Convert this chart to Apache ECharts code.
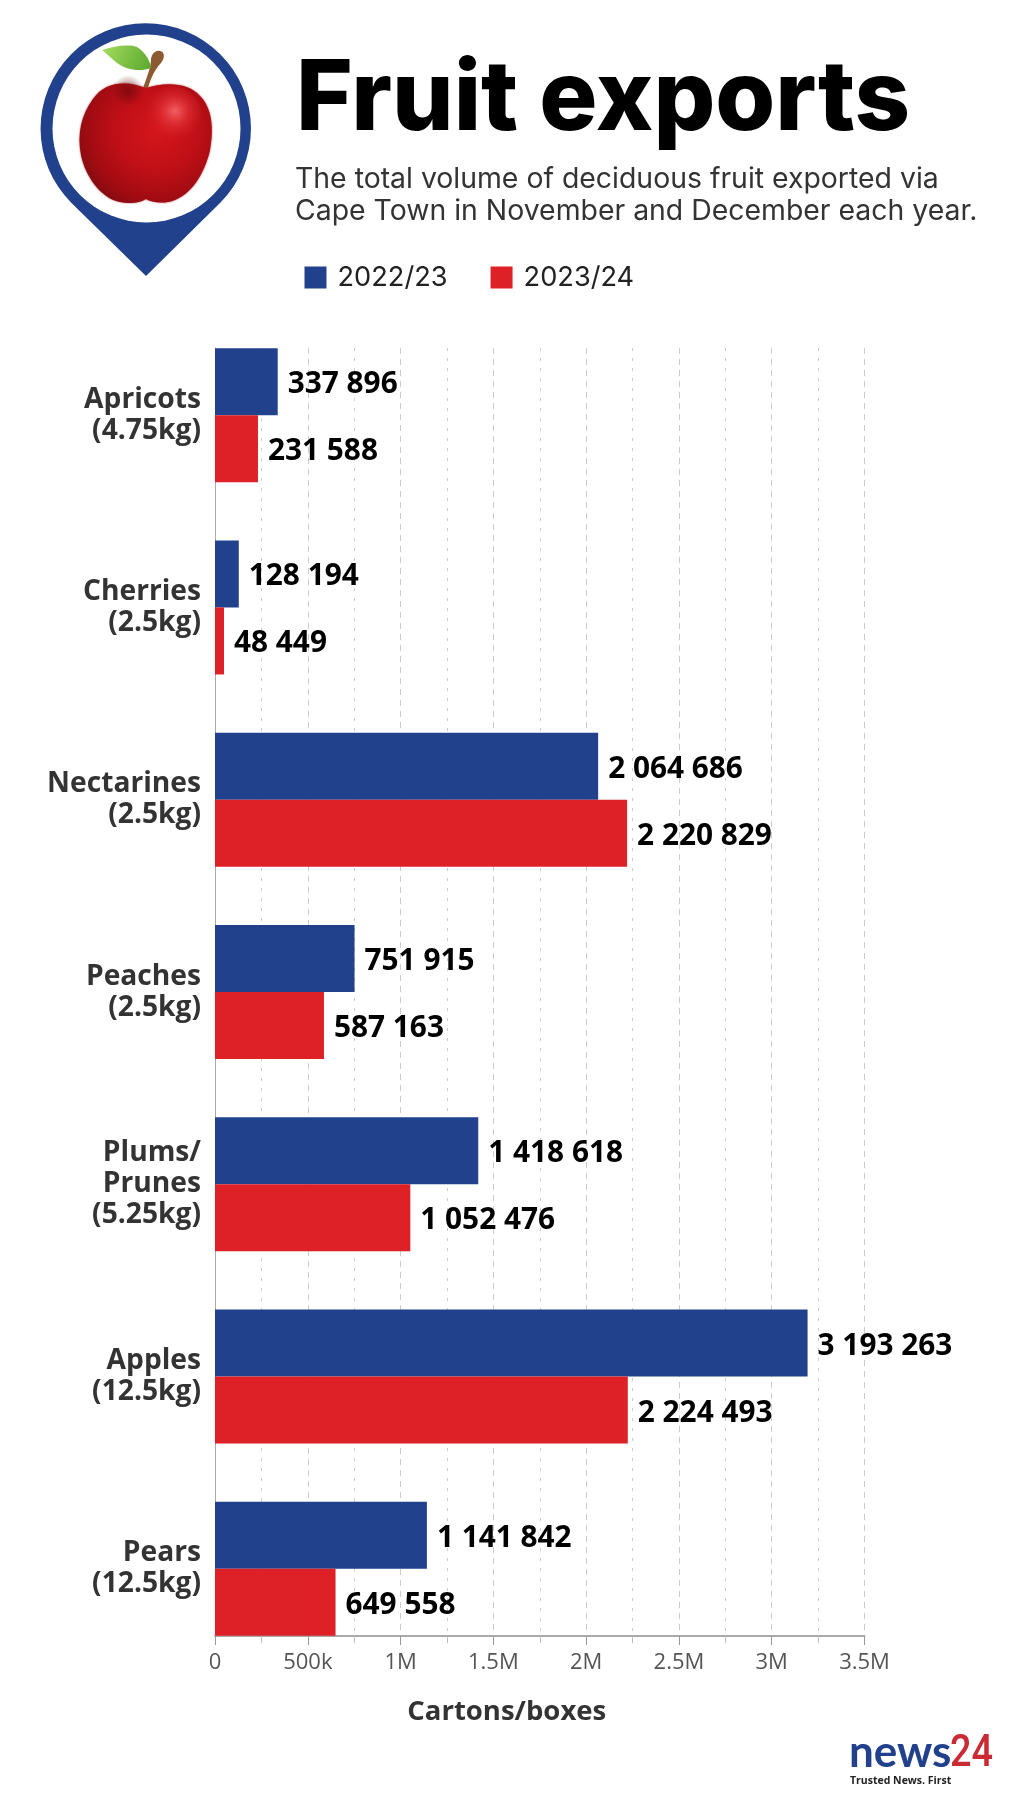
<!DOCTYPE html>
<html><head><meta charset="utf-8">
<style>html,body{margin:0;padding:0;background:#fff}#c{width:1024px;height:1820px}</style>
<script src="https://cdn.jsdelivr.net/npm/echarts@6/dist/echarts.min.js"></script>
</head><body><div id="c"></div>
<script>
const categories = ['Apricots\n(4.75kg)','Cherries\n(2.5kg)','Nectarines\n(2.5kg)','Peaches\n(2.5kg)','Plums/\nPrunes\n(5.25kg)','Apples\n(12.5kg)','Pears\n(12.5kg)'];
const season1 = [337896,128194,2064686,751915,1418618,3193263,1141842];
const season2 = [231588,48449,2220829,587163,1052476,2224493,649558];
const seriesNames = ['2022/23','2023/24'];
const axisMax = 3500000;
const axisStep = 500000;
const BLUE='#21418c', RED='#de2027';
const fmt = v => String(v).replace(/\B(?=(\d{3})+$)/g,' ');
const tick = v => v===0?'0':v<1e6?(v/1000)+'k':(v/1e6)+'M';
const barLabel = {show:true,position:'right',distance:10,offset:[0,3],color:'#000',fontFamily:'Open Sans',fontWeight:700,fontSize:29.8,formatter:p=>fmt(p.value)};
const G = echarts.graphic;
let shapeCount = 0;
function pathEl(d, style){
  const name = 'artPath'+(shapeCount++);
  G.registerShape(name, G.extendPath(d, {}));
  return {type:name, style};
}
const chart = echarts.init(document.getElementById('c'),null,{renderer:'canvas'});
chart.setOption({
  animation:false,
  backgroundColor:'#fff',
  title:[
    {text:'Fruit exports',left:291,top:36,textStyle:{fontFamily:'Inter',fontWeight:800,fontSize:97,color:'#000',lineHeight:120}},
    {text:'The total volume of deciduous fruit exported via\nCape Town in November and December each year.',left:290,top:158,textStyle:{fontFamily:'Inter',fontWeight:400,fontSize:28.4,color:'#333',lineHeight:32}}
  ],
  legend:{left:299.5,top:259,itemWidth:22,itemHeight:22,itemGap:43,icon:'rect',data:seriesNames,
    textStyle:{fontFamily:'Inter',fontSize:27.2,color:'#222',padding:[0,0,0,6]}},
  grid:[
    {left:215,top:319,width:649.5,height:1346},
    {left:215,top:348,width:649.5,height:1288}
  ],
  xAxis:[
    {gridIndex:0,type:'value',min:0,max:axisMax,interval:axisStep,show:false},
    {gridIndex:1,type:'value',min:0,max:axisMax,interval:axisStep,
     axisLine:{show:true,lineStyle:{color:'#aaa',width:2}},
     axisTick:{show:true,length:9,lineStyle:{color:'#999',width:1}},
     minorTick:{show:true,splitNumber:2,length:7,lineStyle:{color:'#bbb',width:1}},
     splitLine:{show:true,lineStyle:{color:'#ccc',type:[6,5],width:1}},
     minorSplitLine:{show:true,lineStyle:{color:'#ccc',type:[3,7],width:1}},
     axisLabel:{margin:16,color:'#555',fontFamily:'Open Sans',fontSize:22,formatter:tick},
     name:'Cartons/boxes',nameLocation:'middle',nameGap:62,
     nameTextStyle:{color:'#333',fontFamily:'Open Sans',fontWeight:700,fontSize:27.5,padding:[0,66,0,0]}}
  ],
  yAxis:[
    {gridIndex:0,type:'category',inverse:true,data:categories,
     axisLine:{show:false},axisTick:{show:false},splitLine:{show:false},
     axisLabel:{margin:14,color:'#333',fontFamily:'Open Sans',fontWeight:700,fontSize:28.2,lineHeight:31,align:'right'}},
    {gridIndex:1,type:'value',min:0,max:1,show:true,
     axisLine:{show:true,lineStyle:{color:'#aaa',width:1}},axisTick:{show:false},axisLabel:{show:false},splitLine:{show:false}}
  ],
  series:[
    {name:seriesNames[0],type:'bar',xAxisIndex:0,yAxisIndex:0,data:season1,barWidth:67,barGap:0,itemStyle:{color:BLUE},label:barLabel,z:3},
    {name:seriesNames[1],type:'bar',xAxisIndex:0,yAxisIndex:0,data:season2,barWidth:67,barGap:0,itemStyle:{color:RED},label:barLabel,z:3}
  ],
  graphic:[
    pathEl('M71.5 203 A105.2 105.2 0 1 1 220 203 L146 276 Z',{fill:BLUE}),
    {type:'circle',shape:{cx:146.5,cy:128.5,r:94},style:{fill:'#fff'}},
    pathEl('M143 88 L148 88 C151 77 156 68 161 63 C165 58 165 52 160 51 C155 50 152 54 151 59 C151 67 147 77 143 88 Z',{fill:'#8c5a30'}),
    pathEl('M102 50 C114 46 128 44 137 47 C145 52 150 60 151 68 C140 72 126 70 117 63 C111 58 107 54 102 50 Z',
     {fill:new G.LinearGradient(0,0,1,1,[{offset:0,color:'#a6dc5e'},{offset:1,color:'#58a82e'}])}),
    pathEl('M146 88 C128 81 106 80 93 99 C81 115 77 135 81 155 C85 175 100 198 120 202 C130 204 140 203 146 199 C152 203 165 204 175 200 C195 192 206 168 210 150 C214 128 212 108 200 96 C188 82 165 82 146 88 Z',
     {fill:new G.RadialGradient(0.58,0.4,0.68,[{offset:0,color:'#d4161c'},{offset:0.5,color:'#c00f16'},{offset:0.85,color:'#a00b12'},{offset:1,color:'#860c12'}]),shadowBlur:2,shadowColor:'#a33'}),
    {type:'circle',shape:{cx:172,cy:116,r:30},style:{fill:new G.RadialGradient(0.55,0.42,0.5,[{offset:0,color:'rgba(250,110,115,0.85)'},{offset:0.5,color:'rgba(235,60,65,0.45)'},{offset:1,color:'rgba(220,30,40,0)'}])}},
    {type:'circle',shape:{cx:128,cy:91,r:16},style:{fill:new G.RadialGradient(0.5,0.5,0.5,[{offset:0,color:'rgba(110,8,12,0.7)'},{offset:1,color:'rgba(110,8,12,0)'}])}},
    {type:'text',style:{text:'news',x:849,y:1731,font:'700 44px Lato',fill:BLUE}},
    {type:'text',x:950,y:1733,scaleX:0.86,style:{text:'24',font:'500 44px Roboto',fill:'#c92a33'}},
    {type:'text',style:{text:'Trusted News. First',x:850,y:1776,font:'700 10.5px "Open Sans"',fill:'#222'}}
  ]
});
</script></body></html>
